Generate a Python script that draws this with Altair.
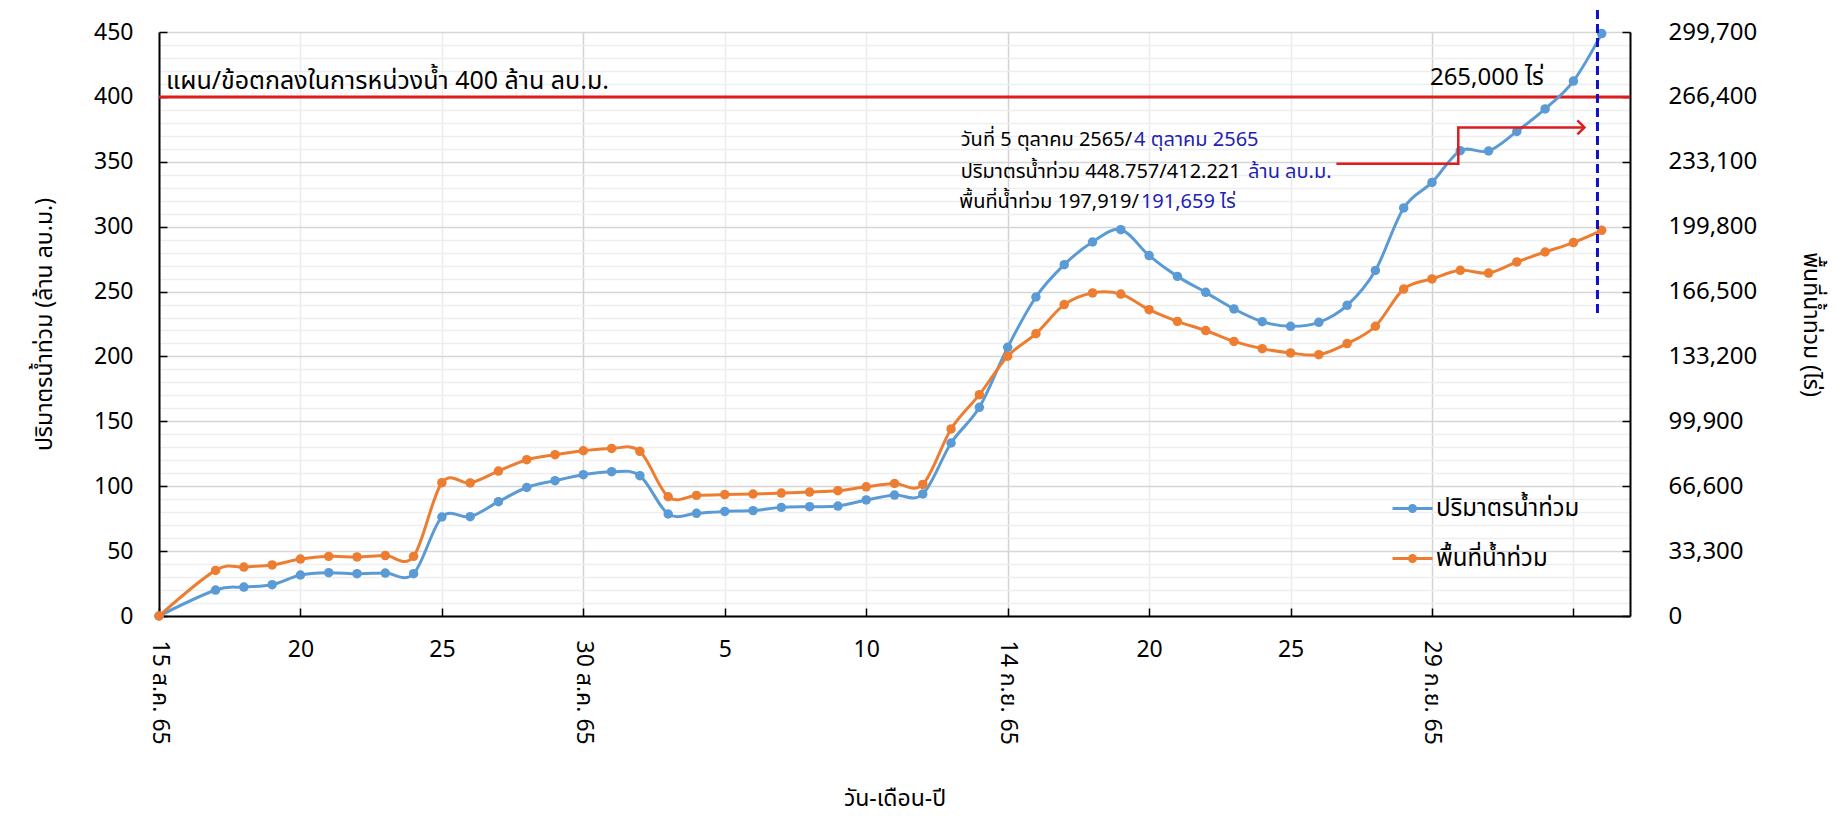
import altair as alt
import pandas as pd

FONT = "Tahoma, 'Noto Sans Thai', 'Noto Sans', 'DejaVu Sans', sans-serif"

# ---------------- data ----------------
idx = [0, 2, 3, 4, 5, 6, 7, 8, 9, 10, 11, 12, 13, 14, 15, 16, 17, 18, 19, 20,
       21, 22, 23, 24, 25, 26, 27, 28, 29, 30, 31, 32, 33, 34, 35, 36, 37, 38,
       39, 40, 41, 42, 43, 44, 45, 46, 47, 48, 49, 50, 51]
volume = [0, 20.0, 22.3, 24.1, 31.6, 33.4, 32.6, 33.1, 32.6, 76.3, 76.5, 88.1,
          99.0, 104.3, 108.9, 111.2, 108.1, 78.6, 79.1, 80.6, 81.2, 83.7, 84.2,
          84.7, 89.4, 93.2, 94.0, 133.3, 160.8, 207.0, 245.8, 270.7, 288.2,
          297.7, 277.7, 261.7, 249.4, 236.6, 226.8, 223.2, 226.3, 239.4, 266.3,
          314.4, 334.1, 358.5, 358.3, 373.4, 390.7, 412.221, 448.757]
area = [0, 23400, 25100, 26200, 29200, 30600, 30300, 31000, 30600, 68400, 68300,
        74400, 80200, 82800, 84800, 86000, 84500, 61200, 61900, 62300, 62600,
        63100, 63600, 64300, 66300, 68000, 67500, 96000, 113600, 133300, 144900,
        159800, 165800, 165200, 157200, 151200, 146500, 140900, 137200, 135000,
        134100, 139800, 148700, 167800, 173000, 177400, 176000, 181700, 186800,
        191659, 197919]

series_names = ["ปริมาตรน้ำท่วม", "พื้นที่น้ำท่วม"]
series_colors = ["#5B9BD5", "#ED7D31"]

# x tick labels
tick_idx_h = [5, 10, 20, 25, 35, 40]
tick_lab_h = ["20", "25", "5", "10", "20", "25"]
tick_idx_r = [0, 15, 30, 45]
tick_lab_r = ["15 ส.ค. 65", "30 ส.ค. 65", "14 ก.ย. 65", "29 ก.ย. 65"]
grid_idx = list(range(0, 51, 5))

left_ticks = list(range(0, 451, 10))
right_ticks = list(range(0, 299701, 33300))

plan_value = [400]
plan_text = ["แผน/ข้อตกลงในการหน่วงน้ำ 400 ล้าน ลบ.ม."]
plan_text_x = [0.25]
plan_text_y = [412]
target_text = ["265,000 ไร่"]
target_text_x = [48.95]
target_text_y = [414.5]

# info box: black part ends (right-aligned) where the blue part starts
info_black = ["วันที่ 5 ตุลาคม 2565/", "ปริมาตรน้ำท่วม 448.757/412.221", "พื้นที่น้ำท่วม 197,919/"]
info_black_x = [34.40, 38.24, 34.64]
info_y = [367, 342.4, 319]
info_blue = ["4 ตุลาคม 2565", "ล้าน ลบ.ม.", "191,659 ไร่"]
info_blue_x = [34.47, 38.50, 34.71]

conn_x = [41.62, 45.93, 45.93, 50.39]
conn_y = [348.5, 348.5, 376.5, 376.5]
conn_order = [0, 1, 2, 3]

marker_x = [50.85]
marker_y = [467]
marker_y2 = [233.5]

# ---------------- frames ----------------
df = pd.DataFrame({"idx": idx, "volume": volume, "area": area})
plan_df = pd.DataFrame({"v": plan_value})
plan_txt_df = pd.DataFrame({"x": plan_text_x, "y": plan_text_y, "t": plan_text})
target_df = pd.DataFrame({"x": target_text_x, "y": target_text_y, "t": target_text})
black_df = pd.DataFrame({"x": info_black_x, "y": info_y, "t": info_black})
blue_df = pd.DataFrame({"x": info_blue_x, "y": info_y, "t": info_blue})
conn_df = pd.DataFrame({"x": conn_x, "y": conn_y, "o": conn_order})
arrow_df = pd.DataFrame({"x": conn_x[-1:], "y": conn_y[-1:]})
marker_df = pd.DataFrame({"x": marker_x, "y": marker_y, "y2": marker_y2})

XDOM = [0, 52]
LDOM = [0, 450]
RDOM = [0, 299700]


def ternary(keys, labels):
    parts = [f"datum.value == {k} ? '{l}'" for k, l in zip(keys, labels)]
    return " : ".join(parts) + " : ''"


xs = alt.Scale(domain=XDOM, zero=False, nice=False)
ls = alt.Scale(domain=LDOM, zero=False, nice=False)
rs = alt.Scale(domain=RDOM, zero=False, nice=False)

color_scale = alt.Scale(domain=series_names, range=series_colors)
legend = alt.Legend(
    title=None, orient="none", legendX=1232, legendY=455,
    symbolType="M-1,0L1,0M0.15,0A0.15,0.15,0,1,1,-0.15,0A0.15,0.15,0,1,1,0.15,0",
    symbolSize=1600, symbolStrokeWidth=3, labelFontSize=24, labelFont=FONT,
    rowPadding=16, labelOffset=2, labelLimit=400,
)

x_axis_main = alt.Axis(
    orient="bottom", values=grid_idx, labelExpr=ternary(tick_idx_h, tick_lab_h),
    labelAngle=0, labelFontSize=23, labelPadding=30, labelFlush=False, labelOverlap=False,
    grid=True, gridWidth=1.5,
    gridColor={"condition": {"test": "datum.value % 15 == 0", "value": "#d2d2d2"}, "value": "#ebebeb"},
    tickSize={"expr": "-8"}, tickColor="#000000", tickWidth=1.5,
    domainColor="#000000", domainWidth=2, title=None,
)
x_axis_rot = alt.Axis(
    orient="bottom", values=tick_idx_r, labelExpr=ternary(tick_idx_r, tick_lab_r),
    labelAngle=90, labelAlign="left", labelBaseline="middle", labelFontSize=23,
    labelPadding=24, labelFlush=False, labelOverlap=False,
    grid=False, ticks=False, domain=False,
    title="วัน-เดือน-ปี", titleFontSize=23, titleFontWeight="normal", titlePadding=43,
)
y_axis_left = alt.Axis(
    orient="left", values=left_ticks, labelExpr="datum.value % 50 == 0 ? datum.label : ''",
    labelFontSize=23, labelPadding=34, labelOverlap=False,
    grid=True, gridWidth=1.5,
    gridColor={"condition": {"test": "datum.value % 50 == 0", "value": "#d6d6d6"}, "value": "#eeeeee"},
    tickSize={"expr": "-8"}, tickColor="#000000", tickWidth=1.5,
    tickOpacity={"condition": {"test": "datum.value % 50 == 0", "value": 1}, "value": 0},
    domainColor="#000000", domainWidth=2,
    title="ปริมาตรน้ำท่วม (ล้าน ลบ.ม.)", titleFontSize=23, titleFontWeight="normal", titlePadding=37,
)
y_axis_right = alt.Axis(
    orient="right", values=right_ticks, labelExpr="format(datum.value, ',')",
    labelFontSize=24, labelPadding=46,
    labelOverlap=False, grid=False,
    tickSize={"expr": "-8"}, tickColor="#000000", tickWidth=1.5,
    domainColor="#000000", domainWidth=2,
    title="พื้นที่น้ำท่วม (ไร่)", titleFontSize=23, titleFontWeight="normal", titleAngle=90, titlePadding=42,
)

plan_rule = alt.Chart(plan_df).mark_rule(color="#E01B1B", strokeWidth=3).encode(
    y=alt.Y("v:Q", scale=ls, axis=None)
)

blue = alt.Chart(df).transform_calculate(
    series=f"'{series_names[0]}'"
).mark_line(
    interpolate="cardinal", strokeWidth=3,
    point=alt.OverlayMarkDef(filled=True, size=90, opacity=1),
).encode(
    x=alt.X("idx:Q", scale=xs, axis=x_axis_main),
    y=alt.Y("volume:Q", scale=ls, axis=y_axis_left),
    color=alt.Color("series:N", scale=color_scale, legend=legend),
)

orange = alt.Chart(df).transform_calculate(
    series=f"'{series_names[1]}'"
).mark_line(
    interpolate="cardinal", strokeWidth=3,
    point=alt.OverlayMarkDef(filled=True, size=90, opacity=1),
).encode(
    x=alt.X("idx:Q", scale=xs, axis=x_axis_rot),
    y=alt.Y("area:Q", scale=rs, axis=y_axis_right),
    color=alt.Color("series:N", scale=color_scale, legend=legend),
)

plan_txt = alt.Chart(plan_txt_df).mark_text(align="left", baseline="middle", fontSize=25, color="#000000").encode(
    x=alt.X("x:Q", scale=xs, axis=None), y=alt.Y("y:Q", scale=ls, axis=None), text="t:N"
)
target_txt = alt.Chart(target_df).mark_text(align="right", baseline="middle", fontSize=24, color="#000000").encode(
    x=alt.X("x:Q", scale=xs, axis=None), y=alt.Y("y:Q", scale=ls, axis=None), text="t:N"
)
black_txt = alt.Chart(black_df).mark_text(align="right", baseline="middle", fontSize=20, color="#000000").encode(
    x=alt.X("x:Q", scale=xs, axis=None), y=alt.Y("y:Q", scale=ls, axis=None), text="t:N"
)
blue_txt = alt.Chart(blue_df).mark_text(align="left", baseline="middle", fontSize=20, color="#1F1FB4").encode(
    x=alt.X("x:Q", scale=xs, axis=None), y=alt.Y("y:Q", scale=ls, axis=None), text="t:N"
)
conn = alt.Chart(conn_df).mark_line(color="#E01B1B", strokeWidth=2.5).encode(
    x=alt.X("x:Q", scale=xs, axis=None), y=alt.Y("y:Q", scale=ls, axis=None), order="o:Q"
)
arrow = alt.Chart(arrow_df).mark_point(
    shape="M-1,-1L0,0L-1,1", filled=False, color="#E01B1B", strokeWidth=2.5, size=200, opacity=1
).encode(
    x=alt.X("x:Q", scale=xs, axis=None), y=alt.Y("y:Q", scale=ls, axis=None)
)
marker = alt.Chart(marker_df).mark_rule(color="#1010C8", strokeWidth=3, strokeDash=[9, 5]).encode(
    x=alt.X("x:Q", scale=xs, axis=None),
    y=alt.Y("y:Q", scale=ls, axis=None), y2="y2:Q",
)

chart = alt.layer(
    plan_rule, blue, orange, plan_txt, target_txt, black_txt, blue_txt, conn, arrow, marker
).resolve_scale(
    y="independent"
).resolve_axis(
    x="independent", y="independent"
).properties(
    width=1471, height=584,
    padding={"left": 25, "top": 0, "right": 12, "bottom": 4},
).configure_axis(
    labelFont=FONT, titleFont=FONT, labelColor="#000000", titleColor="#000000"
).configure_text(font=FONT).configure_legend(labelFont=FONT).configure_view(stroke=None)

chart.save("out.html", embed_options={"renderer": "svg", "actions": False})
